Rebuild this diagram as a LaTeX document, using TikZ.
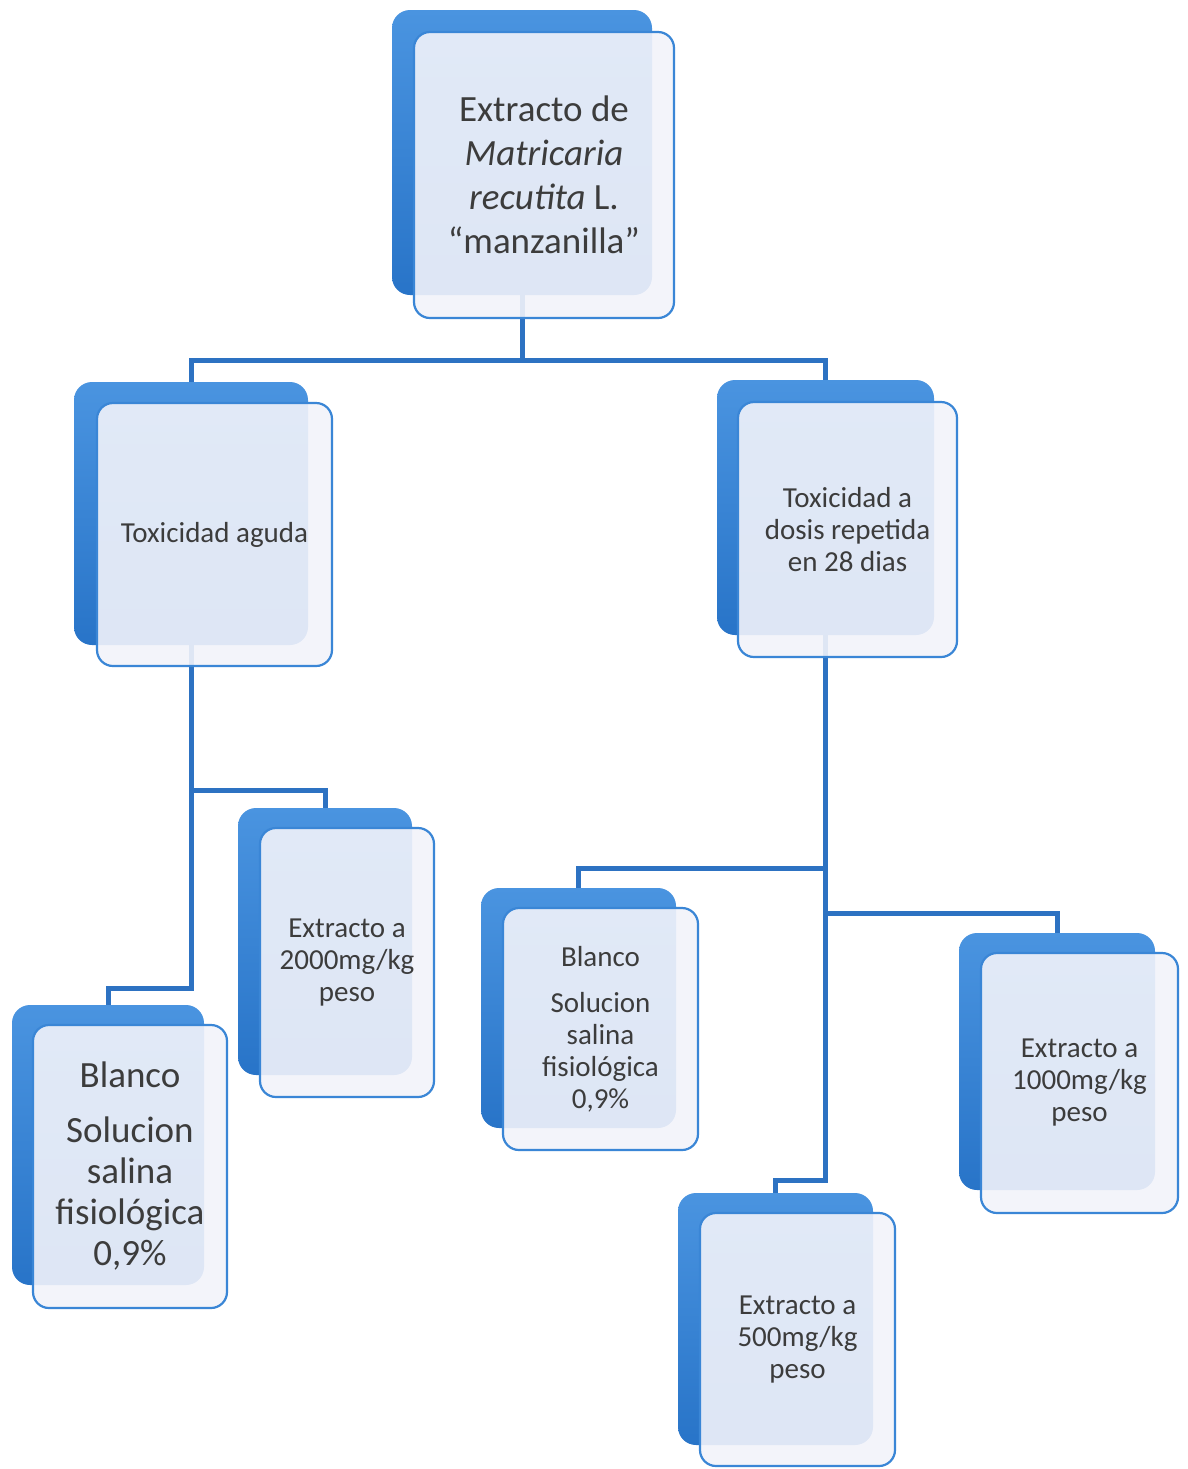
\documentclass[tikz,border=0pt]{standalone}
\usepackage{fontspec}
\setmainfont{Carlito}
\usetikzlibrary{calc}
\definecolor{backtop}{HTML}{4A94E0}
\definecolor{backbot}{HTML}{2874C8}
\definecolor{edgeblue}{HTML}{3A86D6}
\definecolor{connblue}{HTML}{2D72C2}
\definecolor{frontfill}{HTML}{F2F3FA}
\definecolor{txtgray}{HTML}{3C3C3C}
\tikzset{
  backbox/.style={rectangle, rounded corners=9pt, draw=none, top color=backtop, bottom color=backbot, inner sep=0pt},
  frontbox/.style={rectangle, rounded corners=8pt, draw=edgeblue, line width=1.1pt, fill=frontfill, fill opacity=0.9, text opacity=1, text=txtgray, align=center, inner sep=2pt},
  smalltxt/.style={font=\fontsize{14.5pt}{16pt}\selectfont},
  conn/.style={draw=connblue, line width=2.5pt}
}
\begin{document}
\begin{tikzpicture}[x=0.5pt,y=-0.5pt]
\useasboundingbox (0,0) rectangle (1188,1469);
\fill[white] (0,0) rectangle (1188,1469);
% back boxes
\node[backbox, minimum width=130pt, minimum height=142.5pt] (topB) at (522,152.5) {};
\node[backbox, minimum width=117pt, minimum height=131.5pt] (aguB) at (191,513.5) {};
\node[backbox, minimum width=108.5pt, minimum height=127.5pt] (repB) at (825.5,507.5) {};
\node[backbox, minimum width=87pt, minimum height=133.5pt] (k2B) at (325,941.5) {};
\node[backbox, minimum width=96pt, minimum height=140pt] (blB) at (108,1145) {};
\node[backbox, minimum width=97.5pt, minimum height=120pt] (blbB) at (578.5,1008) {};
\node[backbox, minimum width=98pt, minimum height=128.5pt] (e1B) at (1057,1061.5) {};
\node[backbox, minimum width=97.5pt, minimum height=126pt] (e5B) at (775.5,1319) {};
% connectors
\coordinate (j1) at (topB.south |- 0,360);
\coordinate (j2) at (aguB.south |- 0,790);
\coordinate (j3) at (aguB.south |- 0,988);
\coordinate (j4) at (repB.south |- 0,868);
\coordinate (j5) at (repB.south |- 0,913);
\coordinate (j6) at (repB.south |- 0,1180);
\draw[conn] (topB.south) -- (j1) -| (aguB.north);
\draw[conn] (j1) -| (repB.north);
\draw[conn] (aguB.south) -- (j3) -| (blB.north);
\draw[conn] (j2) -| (k2B.north);
\draw[conn] (repB.south) -- (j6) -| (e5B.north);
\draw[conn] (j4) -| (blbB.north);
\draw[conn] (j5) -| (e1B.north);
% front boxes
\node[frontbox, minimum width=130pt, minimum height=143pt, font=\fontsize{18.5pt}{22pt}\selectfont] (top) at (544,175)
  {Extracto de\\ \textit{Matricaria}\\ \textit{recutita} L.\\ “manzanilla”};
\node[frontbox, smalltxt, minimum width=117.5pt, minimum height=131.5pt] (agu) at (214.5,534.5) {Toxicidad aguda};
\node[frontbox, smalltxt, minimum width=109.5pt, minimum height=127.5pt] (rep) at (847.5,529.5) {Toxicidad a\\ dosis repetida\\ en 28 dias};
\node[frontbox, smalltxt, minimum width=87pt, minimum height=134.5pt] (k2) at (347,962.5) {Extracto a\\ 2000mg/kg\\ peso};
\node[frontbox, minimum width=97pt, minimum height=141.5pt, font=\fontsize{18.5pt}{20.5pt}\selectfont] (bl) at (130,1166.5)
  {Blanco\\[7pt] Solucion\\ salina\\ fisiológica\\ 0,9\%};
\node[frontbox, smalltxt, minimum width=97.5pt, minimum height=121pt] (blb) at (600.5,1029)
  {Blanco\\[7pt] Solucion\\ salina\\ fisiológica\\ 0,9\%};
\node[frontbox, smalltxt, minimum width=98.5pt, minimum height=130pt] (e1) at (1079.5,1083) {Extracto a\\ 1000mg/kg\\ peso};
\node[frontbox, smalltxt, minimum width=97.5pt, minimum height=126.5pt] (e5) at (797.5,1339.5) {Extracto a\\ 500mg/kg\\ peso};
\end{tikzpicture}
\end{document}
